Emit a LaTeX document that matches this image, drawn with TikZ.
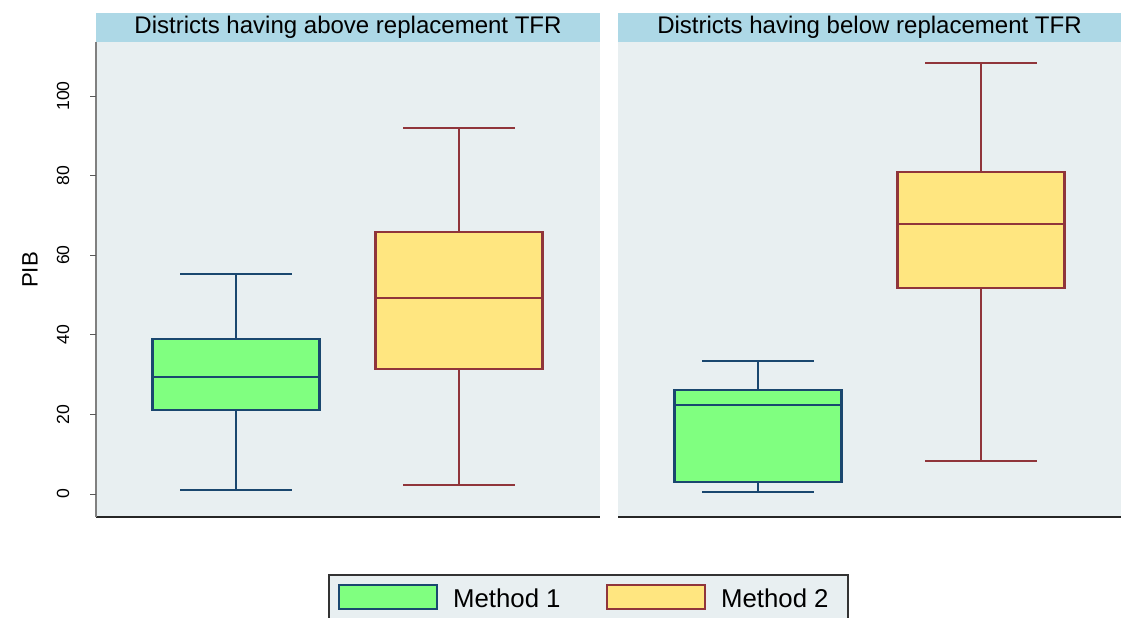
\documentclass[tikz,border=0pt]{standalone}
\usepackage{fontspec}
\setmainfont{Liberation Sans}
\definecolor{plotbg}{HTML}{E8EFF1}
\definecolor{stripbg}{HTML}{ADD8E6}
\definecolor{boxgreen}{HTML}{80FF80}
\definecolor{boxyellow}{HTML}{FFE680}
\definecolor{edgenavy}{HTML}{1A476F}
\definecolor{edgemaroon}{HTML}{90353B}
\begin{document}
\begin{tikzpicture}[x=0.03cm,y=-0.03cm,
  whisk/.style={line width=1.5pt},
  boxedge/.style={line width=1.8pt},
  ticklab/.style={font=\fontsize{15}{15}\selectfont, rotate=90},
  striptxt/.style={font=\fontsize{20.5}{20.5}\selectfont},
  legtxt/.style={font=\fontsize{22}{22}\selectfont, anchor=west}]
\useasboundingbox (0,0) rectangle (1121,618);

% Panels: plot region, title strip and bottom axis
\foreach \xl/\xr/\ttl/\nm in {96/600/above/left, 618/1121/below/right} {
  \fill[plotbg] (\xl,42) rectangle (\xr,517);
  \fill[stripbg] (\xl,13) rectangle (\xr,42);
  \node[striptxt] (title\nm) at ({(\xl+\xr)/2},27.5) {Districts having \ttl\ replacement TFR};
  \draw[line width=1.2pt, black!85] (\xl,517) -- (\xr,517);
}

% Y axis with ticks
\draw[gray, line width=1pt] (96,42) -- (96,517);
\foreach \v in {0,20,...,100} {
  \draw[gray!70!black, line width=0.8pt] (90,{494-3.98*\v}) -- (96,{494-3.98*\v});
  \node[ticklab] (tick\v) at (63,{494-3.98*\v}) {\v};
}
\node[font=\fontsize{19}{19}\selectfont, rotate=90] (ylab) at (30,270) {PIB};

% Boxes: centre / low / Q1 / median / Q3 / high
\begin{scope}[shift={(0,494)}, y=0.1194cm]
\foreach \cx/\lo/\qa/\md/\qb/\hi/\fc/\ec in {
    236/1.0/21.1/29.4/38.9/55.3/boxgreen/edgenavy,
    459/2.3/31.4/49.2/65.8/92.0/boxyellow/edgemaroon,
    758/0.5/3.0/22.4/26.1/33.4/boxgreen/edgenavy,
    981/8.3/51.8/67.8/80.9/108.3/boxyellow/edgemaroon} {
  \draw[whisk, \ec] (\cx,\lo) -- (\cx,\qa) (\cx,\qb) -- (\cx,\hi);
  \draw[whisk, \ec] (\cx-56,\lo) -- (\cx+56,\lo) (\cx-56,\hi) -- (\cx+56,\hi);
  \filldraw[boxedge, fill=\fc, draw=\ec] (\cx-83.5,\qa) rectangle (\cx+83.5,\qb);
  \draw[boxedge, \ec] (\cx-83.5,\md) -- (\cx+83.5,\md);
}
\end{scope}

% Legend
\filldraw[fill=plotbg, draw=black!80, line width=1pt] (329,575) rectangle (848,625);
\filldraw[boxedge, fill=boxgreen, draw=edgenavy] (339,585) rectangle (437,609);
\node[legtxt] (leg1) at (449,598) {Method 1};
\filldraw[boxedge, fill=boxyellow, draw=edgemaroon] (607,585) rectangle (705,609);
\node[legtxt] (leg2) at (717,598) {Method 2};
\end{tikzpicture}
\end{document}
